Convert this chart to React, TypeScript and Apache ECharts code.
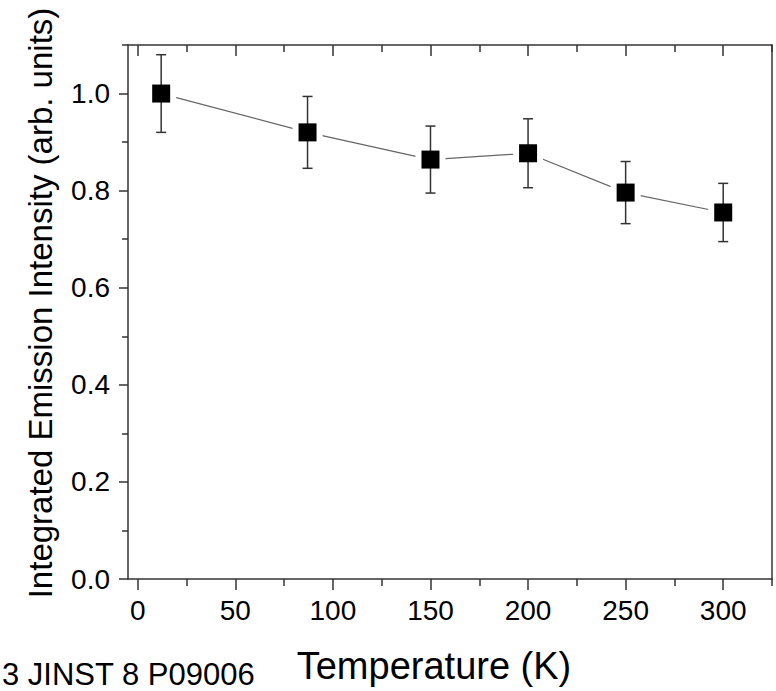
import React, { useEffect, useRef } from "react";
import * as echarts from "echarts";

// Data
const temperatures = [12, 87, 150, 200, 250, 300];
const intensity = [1.0, 0.92, 0.864, 0.877, 0.796, 0.755];
const errors = [0.08, 0.074, 0.069, 0.071, 0.064, 0.06];

const xMajorTicks = [0, 50, 100, 150, 200, 250, 300];
const xMinorTicks = [25, 75, 125, 175, 225, 275, 325];
const yMajorTicks = [0, 0.2, 0.4, 0.6, 0.8, 1.0];
const yMinorTicks = [0.1, 0.3, 0.5, 0.7, 0.9, 1.1];

const X_MIN = -5;
const X_MAX = 325;
const Y_MIN = 0;
const Y_MAX = 1.1;

const AXIS_COLOR = "#333";
const TICK_FONT = "'Liberation Sans', Arial, sans-serif";
const TITLE_FONT = "'Liberation Sans', Arial, sans-serif";

export default function App() {
  const ref = useRef<HTMLDivElement>(null);

  useEffect(() => {
    if (!ref.current) return;
    const chart = echarts.init(ref.current, undefined, { renderer: "svg" });

    const points = temperatures.map((t, i) => [t, intensity[i]]);
    const bars = temperatures.map((t, i) => [t, intensity[i] - errors[i], intensity[i] + errors[i]]);

    const baseX = {
      type: "value" as const,
      min: X_MIN,
      max: X_MAX,
      splitLine: { show: false },
    };
    const baseY = {
      type: "value" as const,
      min: Y_MIN,
      max: Y_MAX,
      splitLine: { show: false },
    };
    const tickLine = { color: AXIS_COLOR, width: 1.5 };

    const option: any = {
      animation: false,
      backgroundColor: "#fff",
      grid: { left: 128, top: 45, right: 4, bottom: 112, containLabel: false },
      xAxis: [
        {
          ...baseX,
          position: "bottom",
          axisLine: { show: true, onZero: false, lineStyle: tickLine },
          axisTick: { show: true, length: 11, customValues: xMajorTicks, lineStyle: tickLine },
          axisLabel: {
            show: true,
            customValues: xMajorTicks,
            margin: 17,
            color: "#000",
            fontSize: 28,
            fontFamily: TICK_FONT,
          },
        },
        {
          ...baseX,
          position: "bottom",
          axisLine: { show: false, onZero: false },
          axisTick: { show: true, length: 7, customValues: xMinorTicks, lineStyle: tickLine },
          axisLabel: { show: false },
        },
        {
          ...baseX,
          position: "top",
          axisLine: { show: true, onZero: false, lineStyle: tickLine },
          axisTick: { show: true, inside: true, length: 11, customValues: xMajorTicks, lineStyle: tickLine },
          axisLabel: { show: false },
        },
        {
          ...baseX,
          position: "top",
          axisLine: { show: false, onZero: false },
          axisTick: { show: true, inside: true, length: 7, customValues: xMinorTicks, lineStyle: tickLine },
          axisLabel: { show: false },
        },
      ],
      yAxis: [
        {
          ...baseY,
          position: "left",
          axisLine: { show: true, onZero: false, lineStyle: tickLine },
          axisTick: { show: true, length: 9, customValues: yMajorTicks, lineStyle: tickLine },
          axisLabel: {
            show: true,
            customValues: yMajorTicks,
            margin: 18,
            color: "#000",
            fontSize: 28,
            fontFamily: TICK_FONT,
            formatter: (v: number) => v.toFixed(1),
          },
        },
        {
          ...baseY,
          position: "left",
          axisLine: { show: false, onZero: false },
          axisTick: { show: true, length: 6, customValues: yMinorTicks, lineStyle: tickLine },
          axisLabel: { show: false },
        },
        {
          ...baseY,
          position: "right",
          axisLine: { show: true, onZero: false, lineStyle: tickLine },
          axisTick: { show: false },
          axisLabel: { show: false },
        },
      ],
      series: [
        {
          type: "line",
          data: points,
          z: 1,
          showSymbol: false,
          symbol: "none",
          lineStyle: { color: "#666", width: 1.2 },
          silent: true,
        },
        {
          type: "scatter",
          data: points,
          z: 5,
          symbol: "rect",
          symbolSize: 30,
          itemStyle: { color: "#fff", opacity: 1 },
          silent: true,
        },
        {
          type: "custom",
          data: bars,
          z: 6,
          silent: true,
          renderItem: (params: any, api: any) => {
            const x = api.value(0);
            const lo = api.coord([x, api.value(1)]);
            const hi = api.coord([x, api.value(2)]);
            const cap = 5;
            const style = { stroke: AXIS_COLOR, lineWidth: 1.5, fill: "none" };
            return {
              type: "group",
              children: [
                { type: "line", shape: { x1: lo[0], y1: lo[1], x2: hi[0], y2: hi[1] }, style },
                { type: "line", shape: { x1: hi[0] - cap, y1: hi[1], x2: hi[0] + cap, y2: hi[1] }, style },
                { type: "line", shape: { x1: lo[0] - cap, y1: lo[1], x2: lo[0] + cap, y2: lo[1] }, style },
              ],
            };
          },
        },
        {
          type: "scatter",
          data: points,
          z: 7,
          symbol: "rect",
          symbolSize: 18,
          itemStyle: { color: "#000", opacity: 1 },
        },
      ],
      graphic: [
        {
          type: "text",
          x: 40,
          y: 303,
          rotation: Math.PI / 2,
          style: {
            text: "Integrated Emission Intensity (arb. units)",
            fontSize: 33,
            fontFamily: TITLE_FONT,
            fill: "#000",
            align: "center",
            verticalAlign: "middle",
          },
        },
        {
          type: "text",
          x: 434,
          y: 666,
          style: {
            text: "Temperature (K)",
            fontSize: 38,
            fontFamily: TITLE_FONT,
            fill: "#000",
            align: "center",
            verticalAlign: "middle",
          },
        },
        {
          type: "text",
          x: 2,
          y: 674,
          style: {
            text: "3 JINST 8 P09006",
            fontSize: 31,
            fontFamily: TITLE_FONT,
            fill: "#000",
            align: "left",
            verticalAlign: "middle",
          },
        },
      ],
    };

    chart.setOption(option);
    return () => chart.dispose();
  }, []);

  return (
    <div
      ref={ref}
      style={{ position: "fixed", left: 0, top: 0, width: 776, height: 691, background: "#fff" }}
    />
  );
}
